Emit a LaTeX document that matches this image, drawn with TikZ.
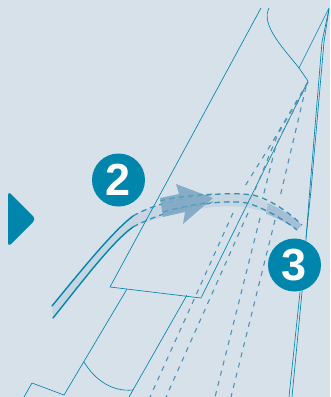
\documentclass[tikz,border=0pt]{standalone}
\usepackage{fontspec}
\setmainfont{Liberation Sans}
\begin{document}
\definecolor{bgc}{HTML}{D7E1EA}
\definecolor{teal}{HTML}{0085AD}
\definecolor{dashc}{HTML}{4F93B5}
\definecolor{bandlight}{HTML}{C6D5E2}
\definecolor{banddark}{HTML}{A4BFD5}
\definecolor{arrowc}{HTML}{7FA9C5}
\begin{tikzpicture}[x=1pt,y=-1pt,
  thin line/.style={draw=teal,line width=0.65pt,line join=round},
  thick line/.style={draw=teal,line width=1.4pt,line cap=round},
  fold/.style={draw=dashc,line width=1.1pt,dash pattern=on 5pt off 5.5pt},
  arcdash/.style={draw=dashc!70!teal,line width=1.3pt,dash pattern=on 5.5pt off 4pt},
  badge/.style={circle,fill=teal,text=white,minimum size=53pt,inner sep=0pt,font=\fontsize{45}{45}\selectfont\bfseries}]
\useasboundingbox (0,0) rectangle (330,397);
\fill[bgc] (0,0) rectangle (330,397);
% hull band between solid lines
\fill[bandlight] (133,216) .. controls (112,232) and (80,272) .. (52,306) -- (53,318) .. controls (82,282) and (112,242) .. (133,227) -- cycle;
% light band along the arc
\fill[bandlight] (133,216) .. controls (160,200) and (215,190) .. (253,195) -- (268,203) -- (273,215) .. controls (240,200) and (190,205) .. (133,227) -- cycle;
\fill[banddark] (268,203) .. controls (280,208) and (292,216) .. (302,225) -- (297,230) .. controls (288,224) and (280,219) .. (266,214) -- cycle;
% sail
\draw[thin line] (261,8) -- (110,287) -- (201,298) -- (308,81) -- (299,68);
\draw[thin line] (299,68) .. controls (285,50) and (260,25) .. (269,8);
\draw[thin line] (299,68) -- (329,8);
% mast
\draw[thin line] (329,9) -- (322,42) -- (309,200) -- (302,292) -- (292,397);
\draw[thin line] (329,9) -- (324,42) -- (311,190) -- (306,238);
\draw[thin line] (300,292) -- (289,397);
% lower hull
\draw[thin line] (127,289) -- (64,395) -- (32,383) -- (24,397);
\draw[thin line] (187,295) -- (129,397);
\draw[thin line] (84,362) .. controls (95,380) and (112,392) .. (133,390);
% dashed folds
\draw[fold] (308,82) -- (270,146) -- (245,186);
\draw[fold] (308,82) -- (278,134) -- (255,190);
\draw[fold] (308,82) -- (276,145) -- (263,197);
\draw[fold] (306,87) -- (280,197);
\draw[fold] (233,213) -- (150,397);
\draw[fold] (248,213) -- (166,397);
\draw[fold] (260,218) -- (215,397);
\draw[fold] (275,220) -- (231,397);
% arcs
\draw[arcdash] (133,216) .. controls (160,200) and (215,190) .. (253,195) .. controls (270,199) and (290,213) .. (302,225);
\draw[arcdash] (133,227) .. controls (165,210) and (215,198) .. (247,203) .. controls (262,207) and (285,220) .. (297,230);
% arrow
\fill[arrowc,fill opacity=.92] (160,198) -- (179,194) -- (176,184) -- (213,198) -- (183,224) -- (185,212) -- (163,217) -- cycle;
\draw[arcdash,draw opacity=.55] (160,201) .. controls (175,197) and (195,195) .. (213,194);
\draw[arcdash,draw opacity=.55] (163,212) .. controls (178,208) and (195,204) .. (213,202);
% solid sheets
\draw[thick line] (133,216) .. controls (112,232) and (80,272) .. (52,306);
\draw[thick line] (133,227) .. controls (112,242) and (82,282) .. (53,318);
% play marker
\fill[teal,rounded corners=4pt] (8,191) -- (36,219) -- (8,247) -- cycle;
% badges
\node[badge] (two) at (118.5,180) {2};
\node[badge] (three) at (294.5,265) {3};
\end{tikzpicture}
\end{document}
